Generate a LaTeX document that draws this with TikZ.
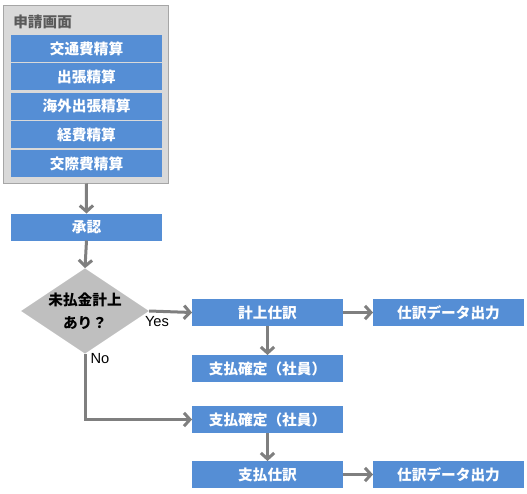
\documentclass[tikz,border=0pt]{standalone}
\usepackage{fontspec}
\setmainfont{Liberation Sans}
\newfontfamily\jpfont{Noto Sans CJK JP}
\usetikzlibrary{arrows.meta, positioning, shapes.geometric}

\definecolor{boxblue}{HTML}{558ED5}
\definecolor{panelgray}{HTML}{D9D9D9}
\definecolor{panelline}{HTML}{A6A6A6}
\definecolor{diagray}{HTML}{BFBFBF}
\definecolor{arrowgray}{HTML}{7F7F7F}

\begin{document}
\begin{tikzpicture}[
    x=0.75pt, y=-0.75pt,
    task/.style={rectangle, fill=boxblue, text=white, font=\jpfont\bfseries\fontsize{11}{13}\selectfont,
        minimum width=113.25pt, minimum height=20.25pt, inner sep=0pt, outer sep=0pt},
    flow/.style={draw=arrowgray, line width=2.25pt, -{Straight Barb[length=4.5pt, width=10pt]}},
    >=stealth
]
\useasboundingbox (0,0) rectangle (527,493);

% Panel
\node (screen) [rectangle, fill=panelgray, draw=panelline, line width=0.75pt, minimum width=124.1pt, minimum height=133.5pt, inner sep=0pt] at (86.25,94) {};
\node (title) [anchor=west, inner sep=0pt, text=black!65, font=\jpfont\bfseries\fontsize{11}{13}\selectfont] at (13,22) {申請画面};

% Nodes
\node (commute) [task] at (86.5,48.5) {交通費精算};
\node (trip) [task] at (86.5,76.5) {出張精算};
\node (abroad) [task] at (86.5,106) {海外出張精算};
\node (expense) [task] at (86.5,134.5) {経費精算};
\node (social) [task] at (86.5,163.5) {交際費精算};
\node (approve) [task] at (86.5,227) {承認};
\node (check) [diamond, fill=diagray, aspect=1.5, minimum width=92.25pt, minimum height=61.5pt, inner sep=0pt,
    align=center, font=\jpfont\bfseries\fontsize{11}{17}\selectfont] at (85,311) {未払金計上\\あり？};
\node (accrue) [task] at (267.5,312.5) {計上仕訳};
\node (out1) [task] at (448.5,312.5) {仕訳データ出力};
\node (pay1) [task] at (267.5,368.5) {支払確定（社員）};
\node (pay2) [task] at (267.5,419.5) {支払確定（社員）};
\node (paytx) [task] at (267.5,474.5) {支払仕訳};
\node (out2) [task] at (448.5,474.5) {仕訳データ出力};

% Arrows
\draw [flow] (screen.south) -- (approve.north);
\draw [flow] (approve.south) -- (check.north);
\draw [flow] (check.east) -- (accrue.west);
\draw [flow] (accrue.east) -- (out1.west);
\draw [flow] (accrue.south) -- (pay1.north);
\draw [flow] (check.south) |- (pay2.west);
\draw [flow] (pay2.south) -- (paytx.north);
\draw [flow] (paytx.east) -- (out2.west);

% Labels
\node (yes) [inner sep=0pt, font=\fontsize{11}{13}\selectfont] at (157,322) {Yes};
\node (no) [inner sep=0pt, font=\fontsize{11}{13}\selectfont] at (100,359) {No};

\end{tikzpicture}
\end{document}
